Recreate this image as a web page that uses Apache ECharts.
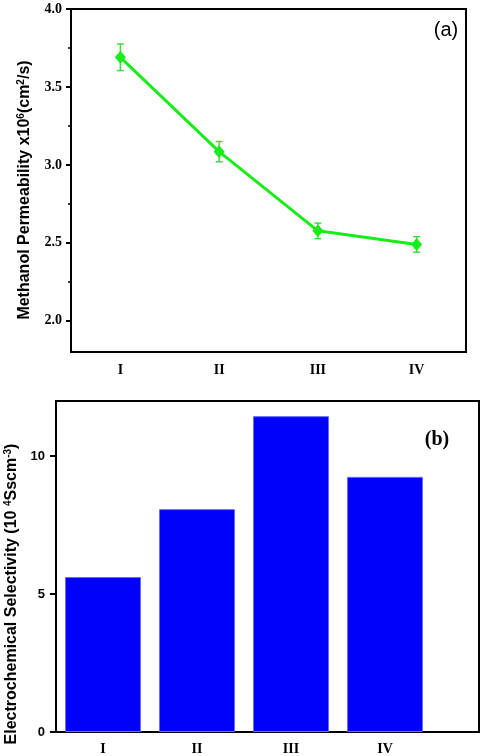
<!DOCTYPE html>
<html>
  <head>
    <meta charset="utf-8">
    <title>ECharts</title>
    <style type="text/css">
    html,body{margin:0;padding:0;background:#fff;}
    #main{width:480px;height:756px;}
    </style>
    <script src="https://cdn.jsdelivr.net/npm/echarts@6/dist/echarts.min.js"></script>
  </head>
  <body>
    <div id="main"></div>
    <script type="text/javascript">
      // samples, shared by both panels
      var categories = ['I', 'II', 'III', 'IV'];
      // (a) methanol permeability x10^6 (cm2/s) and its error bar half-height
      var permeability = [3.69, 3.085, 2.577, 2.49];
      var permError = [0.085, 0.065, 0.05, 0.05];
      // (b) electrochemical selectivity (10^4 Sscm^-3)
      var selectivity = [5.62, 8.08, 11.45, 9.25];
      // tick values
      var permTicks = [2.0, 2.5, 3.0, 3.5, 4.0];
      var permMinorTicks = [2.25, 2.75, 3.25, 3.75];
      var selTicks = [0, 5, 10];
      var selPositions = [1, 2, 3, 4];

      var serifBold = {fontFamily: 'Liberation Serif', fontWeight: 'bold', fontSize: 14, color: '#000'};
      var axisBlack = {lineStyle: {color: '#000', width: 2}};
      var nameRich = {
        m: {fontFamily: 'Liberation Sans', fontWeight: 'bold', fontSize: 16, fill: '#000', lineHeight: 18},
        s: {fontFamily: 'Liberation Sans', fontWeight: 'bold', fontSize: 10, fill: '#000', verticalAlign: 'top', lineHeight: 18}
      };

      var errData = permeability.map(function (v, i) {
        return [i, v - permError[i], v + permError[i]];
      });

      var chart = echarts.init(document.getElementById('main'));
      var option = {
        animation: false,
        grid: [
          {left: 71, top: 9, right: 14, height: 343, show: true, borderColor: '#000', borderWidth: 2},
          {left: 56, top: 401, right: 1, bottom: 24, show: true, borderColor: '#000', borderWidth: 2}
        ],
        xAxis: [
          {
            type: 'category', gridIndex: 0, data: categories, boundaryGap: true,
            axisLine: axisBlack,
            axisTick: {alignWithLabel: true, length: 5, lineStyle: {color: '#000', width: 2}},
            axisLabel: Object.assign({margin: 11}, serifBold),
            splitLine: {show: false}
          },
          {
            type: 'value', gridIndex: 1, min: 0.5, max: 5,
            axisLine: axisBlack,
            axisTick: {show: false},
            axisLabel: Object.assign({
              margin: 10,
              customValues: selPositions,
              formatter: function (v) { return categories[Math.round(v) - 1] || ''; }
            }, serifBold),
            splitLine: {show: false}
          }
        ],
        yAxis: [
          {
            type: 'value', gridIndex: 0, min: 1.8, max: 4.0,
            axisLine: {show: true, lineStyle: {color: '#000', width: 2}},
            axisTick: {show: true, length: 5, customValues: permTicks, lineStyle: {color: '#000', width: 2}},
            axisLabel: Object.assign({
              margin: 9,
              customValues: permTicks,
              formatter: function (v) { return v.toFixed(1); }
            }, serifBold),
            splitLine: {show: false}
          },
          {
            type: 'value', gridIndex: 0, min: 1.8, max: 4.0, position: 'left',
            axisLine: {show: false},
            axisTick: {show: true, length: 3, customValues: permMinorTicks, lineStyle: {color: '#000', width: 1.5}},
            axisLabel: {show: false},
            splitLine: {show: false}
          },
          {
            type: 'value', gridIndex: 1, min: 0, max: 12,
            axisLine: {show: true, lineStyle: {color: '#000', width: 2}},
            axisTick: {show: true, length: 6, customValues: selTicks, lineStyle: {color: '#000', width: 2}},
            axisLabel: {
              margin: 11, customValues: selTicks,
              fontFamily: 'Liberation Sans', fontWeight: 'bold', fontSize: 13, color: '#000'
            },
            splitLine: {show: false}
          }
        ],
        series: [
          {
            type: 'line', xAxisIndex: 0, yAxisIndex: 0, data: permeability,
            symbol: 'diamond', symbolSize: [11, 13],
            lineStyle: {color: '#19ec19', width: 3},
            itemStyle: {color: '#19ec19'},
            z: 3
          },
          {
            type: 'custom', xAxisIndex: 0, yAxisIndex: 0, data: errData, z: 2,
            renderItem: function (params, api) {
              var lo = api.coord([api.value(0), api.value(1)]);
              var hi = api.coord([api.value(0), api.value(2)]);
              var cap = 3.5;
              var st = {stroke: '#3ddc3d', lineWidth: 1.5};
              return {
                type: 'group',
                children: [
                  {type: 'line', shape: {x1: lo[0], y1: lo[1], x2: hi[0], y2: hi[1]}, style: st},
                  {type: 'line', shape: {x1: lo[0] - cap, y1: lo[1], x2: lo[0] + cap, y2: lo[1]}, style: st},
                  {type: 'line', shape: {x1: hi[0] - cap, y1: hi[1], x2: hi[0] + cap, y2: hi[1]}, style: st}
                ]
              };
            }
          },
          {
            type: 'bar', xAxisIndex: 1, yAxisIndex: 2,
            data: selectivity.map(function (v, i) { return [selPositions[i], v]; }),
            barWidth: 76,
            itemStyle: {color: '#0000fb', borderColor: '#6a6aff', borderWidth: 1}
          }
        ],
        graphic: [
          {
            type: 'text', x: 25, y: 190, rotation: Math.PI / 2,
            style: {
              text: '{m|Methanol Permeability x10}{s|6}{m|(cm}{s|2}{m|/s)}',
              align: 'center', verticalAlign: 'middle', rich: nameRich
            }
          },
          {
            type: 'text', x: 12, y: 594, rotation: Math.PI / 2,
            style: {
              text: '{m|Electrochemical Selectivity (10 }{s|4}{m|Sscm}{s|-3}{m|)}',
              align: 'center', verticalAlign: 'middle', rich: nameRich
            }
          },
          {
            type: 'text', x: 446, y: 30,
            style: {text: '(a)', font: '20px "Liberation Sans"', fill: '#000', align: 'center', verticalAlign: 'middle'}
          },
          {
            type: 'text', x: 437, y: 440,
            style: {text: '(b)', font: 'bold 20px "Liberation Serif"', fill: '#000', align: 'center', verticalAlign: 'middle'}
          }
        ]
      };
      chart.setOption(option);
    </script>
  </body>
</html>
